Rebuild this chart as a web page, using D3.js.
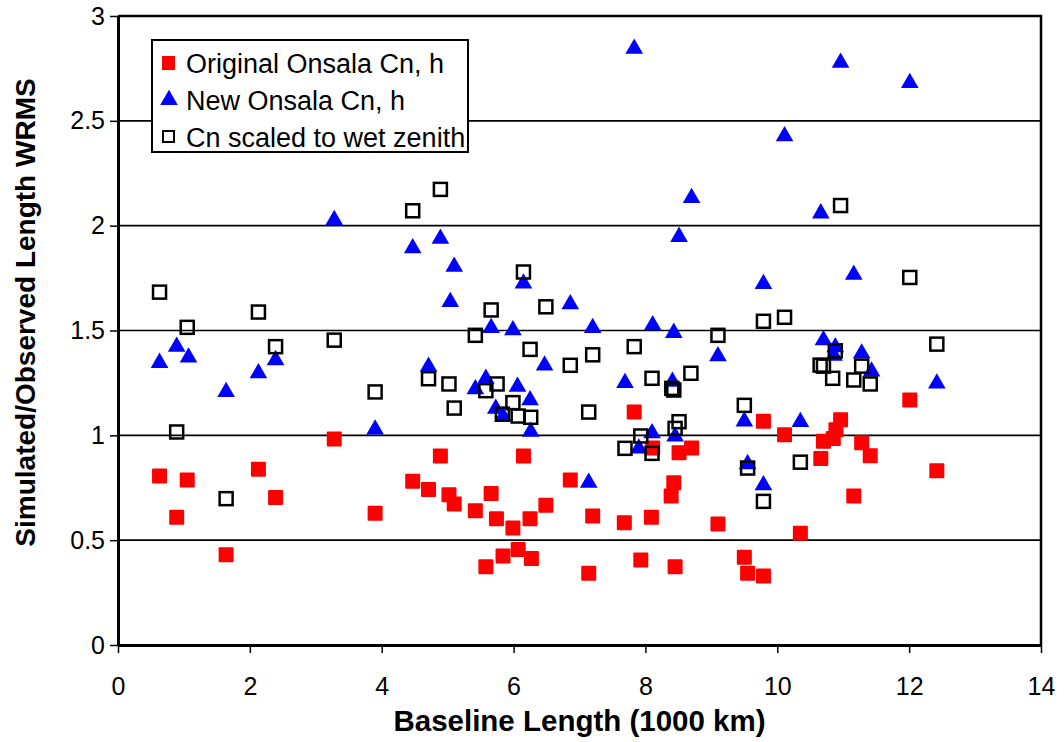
<!DOCTYPE html>
<html>
<head>
<meta charset="utf-8">
<script src="https://cdn.jsdelivr.net/npm/d3@7"></script>
<style>
  body { margin: 0; background: #fff; }
  svg { display: block; font-family: Arial, "Liberation Sans", sans-serif; }
</style>
</head>
<body>
<div id="chart"></div>
<script>
(function () {
    'use strict';

    // Original Onsala Cn, h
    const origX = [0.63, 0.89, 1.05, 1.64, 2.13, 2.39, 3.28, 3.90, 4.47, 4.71, 4.89, 5.02, 5.10, 5.42, 5.58, 5.66, 5.74, 5.84,
        5.99, 6.07, 6.15, 6.25, 6.27, 6.49, 6.86, 7.14, 7.20, 7.68, 7.83, 7.93, 8.09, 8.11, 8.39, 8.43, 8.45, 8.51, 8.70,
        9.10, 9.50, 9.55, 9.79, 9.79, 10.11, 10.35, 10.66, 10.70, 10.85, 10.89, 10.96, 11.16, 11.28, 11.41, 12.01, 12.42];
    const origY = [0.806, 0.609, 0.787, 0.431, 0.838, 0.704, 0.982, 0.628, 0.781, 0.742, 0.901, 0.717, 0.672, 0.640, 0.373, 0.723, 0.602, 0.424,
        0.558, 0.456, 0.901, 0.602, 0.412, 0.666, 0.787, 0.342, 0.615, 0.583, 1.111, 0.405, 0.609, 0.939, 0.711, 0.774, 0.373, 0.917, 0.939,
        0.577, 0.418, 0.342, 0.329, 1.067, 1.003, 0.533, 0.890, 0.972, 0.985, 1.027, 1.074, 0.711, 0.965, 0.903, 1.168, 0.831];

    // New Onsala Cn, h
    const newX = [0.63, 0.89, 1.07, 1.64, 2.13, 2.39, 3.28, 3.90, 4.47, 4.71, 4.89, 5.04, 5.10, 5.42, 5.58, 5.66, 5.73, 5.84,
        5.99, 6.06, 6.15, 6.25, 6.26, 6.47, 6.86, 7.14, 7.20, 7.69, 7.83, 7.90, 8.10, 8.11, 8.41, 8.43, 8.45, 8.51, 8.70,
        9.10, 9.50, 9.55, 9.79, 9.79, 10.11, 10.35, 10.66, 10.70, 10.86, 10.88, 10.96, 11.16, 11.28, 11.43, 12.01, 12.42];
    const newY = [1.346, 1.423, 1.372, 1.207, 1.296, 1.359, 2.027, 1.028, 1.893, 1.327, 1.938, 1.636, 1.804, 1.220, 1.270, 1.512, 1.127, 1.090,
        1.502, 1.232, 1.725, 1.168, 1.017, 1.333, 1.626, 0.774, 1.512, 1.250, 2.844, 0.938, 1.010, 1.525, 1.256, 1.489, 0.995, 1.947, 2.132,
        1.378, 1.067, 0.863, 0.762, 1.722, 2.427, 1.064, 2.059, 1.454, 1.380, 1.420, 2.777, 1.766, 1.391, 1.305, 2.681, 1.248];

    // Cn scaled to wet zenith
    const scaledX = [0.63, 0.89, 1.05, 1.64, 2.13, 2.39, 3.28, 3.90, 4.47, 4.71, 4.89, 5.02, 5.10, 5.42, 5.58, 5.66, 5.75, 5.83,
        5.99, 6.07, 6.15, 6.25, 6.26, 6.49, 6.86, 7.14, 7.20, 7.69, 7.83, 7.93, 8.10, 8.10, 8.40, 8.43, 8.45, 8.51, 8.69,
        9.10, 9.50, 9.55, 9.79, 9.79, 10.11, 10.35, 10.65, 10.70, 10.84, 10.88, 10.96, 11.16, 11.28, 11.41, 12.01, 12.42];
    const scaledY = [1.683, 1.016, 1.515, 0.698, 1.588, 1.423, 1.454, 1.207, 2.071, 1.270, 2.173, 1.245, 1.130, 1.477, 1.213, 1.598, 1.245, 1.101,
        1.156, 1.092, 1.779, 1.410, 1.086, 1.613, 1.334, 1.111, 1.384, 0.938, 1.423, 0.997, 0.914, 1.272, 1.224, 1.216, 1.033, 1.065, 1.296,
        1.477, 1.143, 0.844, 0.685, 1.544, 1.563, 0.872, 1.335, 1.330, 1.272, 1.403, 2.096, 1.264, 1.330, 1.245, 1.753, 1.435];

    const xTicks = [0, 2, 4, 6, 8, 10, 12, 14];
    const yTicks = [0, 0.5, 1, 1.5, 2, 2.5, 3];
    const seriesNames = ['Original Onsala Cn, h', 'New Onsala Cn, h', 'Cn scaled to wet zenith'];

    const width = 1064;
    const height = 742;
    const margin = { top: 16, right: 23, bottom: 97, left: 118 };
    const w = width - margin.left - margin.right;
    const h = height - margin.top - margin.bottom;

    const x = d3.scaleLinear().domain([0, 14]).range([0, w]);
    const y = d3.scaleLinear().domain([0, 3]).range([h, 0]);

    const svg = d3.select('#chart').append('svg')
        .attr('width', width)
        .attr('height', height);

    const g = svg.append('g')
        .attr('transform', `translate(${margin.left},${margin.top})`);

    // horizontal gridlines
    g.append('g')
        .selectAll('line')
        .data(yTicks.filter(d => d > 0 && d < 3))
        .join('line')
        .attr('x1', 0)
        .attr('x2', w)
        .attr('y1', d => y(d))
        .attr('y2', d => y(d))
        .attr('stroke', '#000')
        .attr('stroke-width', 1.6);

    // top and right border
    g.append('path')
        .attr('d', `M0,${y(3)}H${w}V${h}`)
        .attr('fill', 'none')
        .attr('stroke', '#000')
        .attr('stroke-width', 2.5);

    const yAxis = g.append('g')
        .call(d3.axisLeft(y).tickValues(yTicks).tickSizeInner(8).tickSizeOuter(0).tickPadding(5)
            .tickFormat(d => String(d)));
    yAxis.select('.domain').attr('stroke-width', 3);
    yAxis.selectAll('.tick line').attr('stroke-width', 1.5);
    yAxis.selectAll('.tick text').attr('font-size', 25).attr('font-family', 'Arial, "Liberation Sans", sans-serif').attr('fill', '#000');

    const xAxis = g.append('g')
        .attr('transform', `translate(0,${h})`)
        .call(d3.axisBottom(x).tickValues(xTicks).tickSizeInner(8).tickSizeOuter(0).tickPadding(24));
    xAxis.select('.domain').attr('stroke-width', 3);
    xAxis.selectAll('.tick line').attr('stroke-width', 1.5);
    xAxis.selectAll('.tick text').attr('font-size', 25).attr('font-family', 'Arial, "Liberation Sans", sans-serif').attr('fill', '#000');

    // axis titles
    svg.append('text')
        .attr('x', margin.left + x(7))
        .attr('y', 731)
        .attr('text-anchor', 'middle')
        .attr('font-size', 29.5)
        .attr('font-weight', 'bold')
        .text('Baseline Length (1000 km)');

    svg.append('text')
        .attr('transform', `translate(35,${margin.top + y(1.5) - 18}) rotate(-90)`)
        .attr('text-anchor', 'middle')
        .attr('font-size', 28)
        .attr('font-weight', 'bold')
        .text('Simulated/Observed Length WRMS');

    const zip = (xs, ys) => xs.map((d, i) => ({ x: d, y: ys[i] }));

    // series 1: red squares
    g.append('g')
        .selectAll('rect')
        .data(zip(origX, origY))
        .join('rect')
        .attr('x', d => x(d.x) - 7.5)
        .attr('y', d => y(d.y) - 7.5)
        .attr('width', 15)
        .attr('height', 15)
        .attr('rx', 1)
        .attr('fill', '#ff0000');

    // series 2: blue triangles
    const tri = d3.symbol().type(d3.symbolTriangle).size(135);
    g.append('g')
        .selectAll('path')
        .data(zip(newX, newY))
        .join('path')
        .attr('d', tri)
        .attr('transform', d => `translate(${x(d.x)},${y(d.y)})`)
        .attr('fill', '#0000ff');

    // series 3: hollow black squares
    g.append('g')
        .selectAll('rect')
        .data(zip(scaledX, scaledY))
        .join('rect')
        .attr('x', d => x(d.x) - 6.5)
        .attr('y', d => y(d.y) - 6.5)
        .attr('width', 13)
        .attr('height', 13)
        .attr('fill', 'none')
        .attr('stroke', '#000')
        .attr('stroke-width', 2.5);

    // legend
    const legend = svg.append('g').attr('transform', 'translate(152,40)');
    legend.append('rect')
        .attr('width', 316)
        .attr('height', 112)
        .attr('fill', '#fff')
        .attr('stroke', '#000')
        .attr('stroke-width', 2);

    const rows = legend.selectAll('g.row')
        .data(seriesNames)
        .join('g')
        .attr('class', 'row')
        .attr('transform', (d, i) => `translate(0,${23 + i * 37})`);

    rows.filter((d, i) => i === 0).append('rect')
        .attr('x', 10).attr('y', -7).attr('width', 13).attr('height', 14)
        .attr('fill', '#ff0000');
    rows.filter((d, i) => i === 1).append('path')
        .attr('d', tri)
        .attr('transform', 'translate(17,0)')
        .attr('fill', '#0000ff');
    rows.filter((d, i) => i === 2).append('rect')
        .attr('x', 11).attr('y', -6).attr('width', 11).attr('height', 11)
        .attr('fill', 'none').attr('stroke', '#000').attr('stroke-width', 2);

    rows.append('text')
        .attr('x', 34)
        .attr('dy', '0.36em')
        .attr('font-size', 27)
        .text(d => d);
})();
</script>
</body>
</html>
